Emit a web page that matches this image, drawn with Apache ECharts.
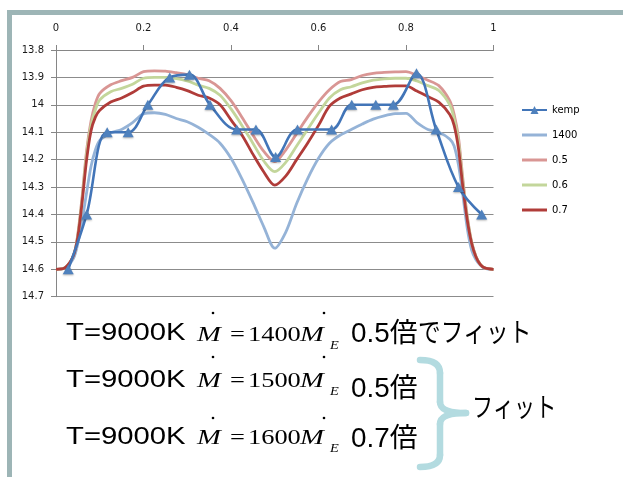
<!DOCTYPE html>
<html>
<head>
<meta charset="utf-8">
<script src="https://cdn.jsdelivr.net/npm/echarts@6/dist/echarts.min.js"></script>
<style>
html,body{margin:0;padding:0;background:#fff;}
#chart{width:623px;height:477px;}
</style>
</head>
<body>
<div id="chart"></div>
<script>
// ---- data ----
var xTicks = ['0', '0.2', '0.4', '0.6', '0.8', '1'];
var yTicks = ['13.8', '13.9', '14', '14.1', '14.2', '14.3', '14.4', '14.5', '14.6', '14.7'];
var seriesNames = ['kemp', '1400', '0.5', '0.6', '0.7'];

var kempX = [0.028, 0.070, 0.117, 0.165, 0.210, 0.260, 0.305, 0.352, 0.413, 0.457,
             0.502, 0.552, 0.630, 0.676, 0.731, 0.771, 0.824, 0.869, 0.920, 0.973];
var kempY = [14.60, 14.40, 14.10, 14.10, 14.00, 13.90, 13.89, 14.00, 14.09, 14.09,
             14.19, 14.09, 14.09, 14.00, 14.00, 14.00, 13.885, 14.09, 14.30, 14.40];

var modelX = [0, 0.02, 0.04, 0.05, 0.06, 0.07, 0.08, 0.09, 0.1,
  0.125, 0.15, 0.175, 0.2, 0.225, 0.25, 0.275, 0.3, 0.325, 0.35, 0.375, 0.4, 0.425, 0.45, 0.475,
  0.5, 0.525, 0.55, 0.575, 0.6, 0.625, 0.65, 0.675, 0.7, 0.725, 0.75, 0.775, 0.8, 0.825, 0.85, 0.875,
  0.9, 0.91, 0.92, 0.93, 0.94, 0.95, 0.96, 0.97, 0.98, 1];

var m1400 = [14.6, 14.595, 14.56, 14.505, 14.42, 14.32, 14.225, 14.165, 14.13,
  14.103, 14.09, 14.065, 14.033, 14.029, 14.035, 14.05, 14.062, 14.082, 14.108, 14.14, 14.195, 14.27, 14.355, 14.445,
  14.523, 14.465, 14.36, 14.27, 14.195, 14.14, 14.11, 14.09, 14.07, 14.052, 14.04, 14.032, 14.031, 14.065, 14.09, 14.1,
  14.125, 14.15, 14.22, 14.33, 14.45, 14.53, 14.565, 14.585, 14.597, 14.6];

var m05 = [14.6, 14.595, 14.55, 14.47, 14.33, 14.165, 14.06, 13.995, 13.958,
  13.927, 13.912, 13.9, 13.879, 13.876, 13.877, 13.883, 13.89, 13.903, 13.912, 13.94, 13.985, 14.045, 14.11, 14.17,
  14.207, 14.165, 14.105, 14.045, 13.99, 13.945, 13.915, 13.908, 13.893, 13.885, 13.882, 13.88, 13.879, 13.893, 13.91, 13.93,
  13.985, 14.035, 14.12, 14.27, 14.405, 14.5, 14.553, 14.582, 14.595, 14.6];

var m06 = [14.6, 14.595, 14.55, 14.475, 14.34, 14.18, 14.075, 14.018, 13.982,
  13.952, 13.94, 13.925, 13.903, 13.9, 13.9, 13.904, 13.913, 13.928, 13.94, 13.965, 14.015, 14.075, 14.14, 14.205,
  14.244, 14.21, 14.15, 14.09, 14.03, 13.975, 13.945, 13.934, 13.92, 13.91, 13.905, 13.903, 13.903, 13.913, 13.93, 13.948,
  14.0, 14.05, 14.135, 14.285, 14.41, 14.502, 14.554, 14.582, 14.595, 14.6];

var m07 = [14.6, 14.595, 14.55, 14.48, 14.35, 14.2, 14.095, 14.045, 14.02,
  13.99, 13.975, 13.955, 13.932, 13.928, 13.928, 13.936, 13.948, 13.965, 13.975, 14.0, 14.055, 14.11, 14.18, 14.245,
  14.293, 14.26, 14.2, 14.14, 14.075, 14.005, 13.975, 13.96, 13.945, 13.936, 13.933, 13.931, 13.931, 13.95, 13.97, 13.99,
  14.035, 14.075, 14.16, 14.3, 14.42, 14.505, 14.555, 14.583, 14.595, 14.6];

// ---- helpers ----
function pairs(xs, ys) { return xs.map(function (x, i) { return [x, ys[i]]; }); }
var colors = ['#4275b8', '#95b3d7', '#d99694', '#c3d69b', '#b03c39'];
var modelVals = [m1400, m05, m06, m07];

var series = [{
  name: seriesNames[0], type: 'line', z: 5, smooth: 0.35,
  data: pairs(kempX, kempY),
  symbol: 'triangle', symbolSize: [11, 10], showSymbol: true,
  itemStyle: { color: '#4f81bd', shadowBlur: 2, shadowColor: 'rgba(0,0,0,0.3)', shadowOffsetY: 1 },
  lineStyle: { color: colors[0], width: 2.6 }
}];
modelVals.forEach(function (vals, k) {
  series.push({
    name: seriesNames[k + 1], type: 'line', z: 2 + k * 0.1, smooth: 0.3,
    data: pairs(modelX, vals),
    symbol: 'none', showSymbol: false,
    itemStyle: { color: colors[k + 1] },
    lineStyle: { color: colors[k + 1], width: 2.8 }
  });
});

var lineIcon = 'path://M0,0 L25,0 L25,3 L0,3 Z';
var legendData = seriesNames.map(function (n, i) {
  return i === 0 ? { name: n } : { name: n, icon: lineIcon };
});

function tickFmt(list, v) {
  var s = String(+(+v).toFixed(1));
  return list.indexOf(s) >= 0 ? s : '';
}

var sans = "'Liberation Sans', 'Noto Sans CJK JP', sans-serif";
var serifI = "italic 22px 'Liberation Serif', serif";
var serif = "22px 'Liberation Serif', serif";
var serifSub = "italic 12px 'Liberation Serif', serif";

function txt(x, y, text, font, sx) {
  return { type: 'text', x: x, y: y, scaleX: sx || 1, z: 10, silent: true,
    style: { text: text, font: font, fill: '#000', align: 'left', verticalAlign: 'middle',
             textAlign: 'left', textVerticalAlign: 'middle' } };
}
function dot(x, y) {
  return { type: 'circle', z: 10, silent: true, shape: { cx: x, cy: y, r: 1.3 }, style: { fill: '#000' } };
}
var braceStyle = { fill: null, stroke: '#b3dbe0', lineWidth: 6.5, lineCap: 'round' };
function quad(x1, y1, cx, cy, x2, y2) {
  return { type: 'bezierCurve', z: 10, silent: true,
    shape: { x1: x1, y1: y1, cpx1: cx, cpy1: cy, x2: x2, y2: y2 }, style: braceStyle };
}
function seg(x1, y1, x2, y2) {
  return { type: 'line', z: 10, silent: true, shape: { x1: x1, y1: y1, x2: x2, y2: y2 }, style: braceStyle };
}

var rowT = [333.5, 380.5, 437];
var rowM = [335, 381.5, 438.5];
var rowE = [345.5, 391.5, 448.5];
var rowDot = [313, 357, 418];
var rowNum = ['1400', '1500', '1600'];
var rowTail = [334.5, 389.3, 440];
var rowTailText = ['0.5倍', '0.5倍', '0.7倍'];

var graphics = [
  { type: 'rect', z: 1, silent: true, shape: { x: 7, y: 10, width: 616, height: 5 }, style: { fill: '#9db5b6' } },
  { type: 'rect', z: 1, silent: true, shape: { x: 7, y: 10, width: 5, height: 467 }, style: { fill: '#9db5b6' } }
];
for (var r = 0; r < 3; r++) {
  graphics.push(txt(66, rowT[r], 'T=9000K', '24px ' + sans, 1.22));
  graphics.push(txt(197, rowM[r], 'M', serifI, 1.3));
  graphics.push(txt(230, rowM[r], '=', serif, 1.2));
  graphics.push(txt(248, rowM[r], rowNum[r], serif, 1.2));
  graphics.push(txt(300, rowM[r], 'M', serifI, 1.3));
  graphics.push(txt(330, rowE[r], 'E', serifSub, 1.2));
  graphics.push(dot(213, rowDot[r]));
  graphics.push(dot(324, rowDot[r]));
  graphics.push(txt(351, rowTail[r], rowTailText[r], '27px ' + sans, 1.03));
}
graphics.push(txt(418, rowTail[0] + 0.5, 'でフィット', '27px ' + sans, 0.84));
graphics.push(txt(472, 410, 'フィット', '27px ' + sans, 0.78));
graphics.push(quad(420, 360, 440, 360, 440, 373));
graphics.push(seg(440, 373, 440, 402));
graphics.push(quad(440, 402, 440, 413, 466, 413));
graphics.push(quad(466, 413, 440, 413, 440, 424));
graphics.push(seg(440, 424, 440, 455));
graphics.push(quad(440, 455, 440, 467, 420, 467));

var chart = echarts.init(document.getElementById('chart'), null, { renderer: 'canvas' });
chart.setOption({
  backgroundColor: '#ffffff',
  animation: false,
  grid: { left: 56, top: 50, right: 129.5, bottom: 180.3, containLabel: false },
  xAxis: {
    type: 'value', position: 'top', min: 0, max: 1, interval: 0.2,
    axisLine: { show: true, onZero: false, lineStyle: { color: '#868686', width: 1 } },
    axisTick: { show: true, inside: false, length: 5, lineStyle: { color: '#868686' } },
    splitLine: { show: false },
    axisLabel: { margin: 17, color: '#1a1a1a', fontSize: 10, fontFamily: 'DejaVu Sans',
      formatter: function (v) { return tickFmt(xTicks, v); } }
  },
  yAxis: {
    type: 'value', inverse: true, min: 13.8, max: 14.7, interval: 0.1,
    axisLine: { show: true, onZero: false, lineStyle: { color: '#868686', width: 1 } },
    axisTick: { show: true, inside: false, length: 5, lineStyle: { color: '#868686' } },
    splitLine: { show: true, lineStyle: { color: '#8c8c8c', width: 1 } },
    axisLabel: { margin: 12, color: '#1a1a1a', fontSize: 10, fontFamily: 'DejaVu Sans',
      formatter: function (v) { return tickFmt(yTicks, v); } }
  },
  legend: {
    orient: 'vertical', left: 516, top: 100, itemWidth: 25, itemHeight: 10, itemGap: 15,
    data: legendData,
    textStyle: { color: '#000', fontSize: 10, fontFamily: 'DejaVu Sans' },
    selectedMode: false
  },
  series: series,
  graphic: graphics
});
</script>
</body>
</html>
